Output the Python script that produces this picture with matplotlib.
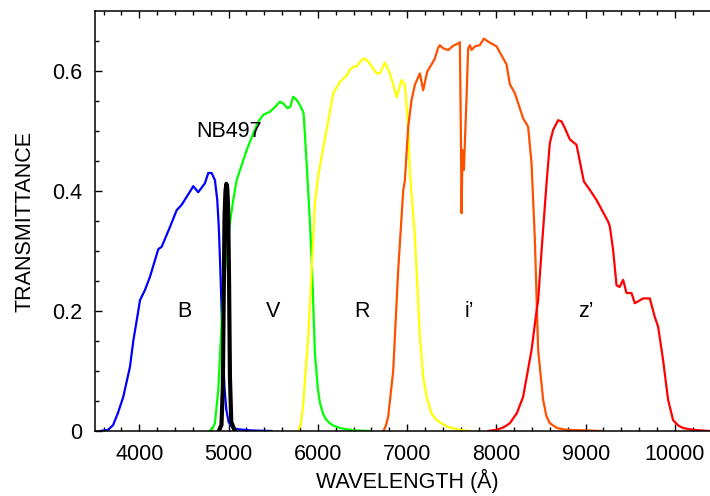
import matplotlib.pyplot as plt

plt.rcParams['font.family'] = ['Liberation Sans', 'DejaVu Sans']

# filter curves: wavelength (A), transmittance
b_wl = [3560, 3650, 3706, 3760, 3820, 3895, 3932, 3988, 4007, 4063, 4119, 4212, 4250,
        4343, 4418, 4474, 4567, 4604, 4660, 4735, 4772, 4810, 4847, 4873, 4890, 4905,
        4922, 4940, 4955, 4975, 5000, 5040, 5100, 5250, 5480]
b_tr = [0.0, 0.002, 0.01, 0.03, 0.057, 0.107, 0.15, 0.2, 0.218, 0.235, 0.257, 0.303, 0.307,
        0.34, 0.368, 0.377, 0.399, 0.408, 0.398, 0.413, 0.43, 0.43, 0.418, 0.385, 0.34, 0.28,
        0.2, 0.12, 0.07, 0.035, 0.015, 0.006, 0.003, 0.001, 0.0]

nb_wl = [4890, 4920, 4935, 4945, 4955, 4965, 4975, 4985, 4995, 5005, 5015, 5030, 5070]
nb_tr = [0.0, 0.01, 0.07, 0.22, 0.36, 0.40, 0.412, 0.405, 0.37, 0.25, 0.09, 0.015, 0.0]

v_wl = [4780, 4820, 4847, 4884, 4903, 4922, 4940, 4980, 5015, 5052, 5090, 5146, 5202, 5276,
        5330, 5388, 5463, 5520, 5575, 5620, 5657, 5690, 5724, 5762, 5800, 5840, 5875, 5910,
        5935, 5967, 6000, 6023, 6060, 6098, 6160, 6247, 6400, 6583]
v_tr = [0.0, 0.004, 0.013, 0.068, 0.124, 0.18, 0.235, 0.3, 0.347, 0.385, 0.418, 0.443, 0.468, 0.496,
        0.515, 0.527, 0.532, 0.54, 0.549, 0.545, 0.538, 0.54, 0.557, 0.552, 0.543, 0.53, 0.445, 0.35,
        0.27, 0.13, 0.07, 0.047, 0.028, 0.018, 0.01, 0.005, 0.001, 0.0]

r_wl = [5780, 5810, 5836, 5892, 5930, 5967, 6004, 6042, 6098, 6172, 6247, 6322, 6359, 6396,
        6434, 6508, 6564, 6658, 6695, 6751, 6807, 6844, 6882, 6938, 6975, 7012, 7031, 7087,
        7143, 7180, 7218, 7270, 7330, 7450, 7590, 7703]
r_tr = [0.0, 0.012, 0.046, 0.157, 0.268, 0.38, 0.425, 0.457, 0.502, 0.563, 0.582, 0.592, 0.602, 0.607,
        0.608, 0.621, 0.616, 0.596, 0.596, 0.614, 0.596, 0.577, 0.556, 0.585, 0.577, 0.507, 0.43, 0.324,
        0.157, 0.09, 0.057, 0.03, 0.018, 0.007, 0.002, 0.0]

i_wl = [6733, 6760, 6788, 6844, 6900, 6956, 6975, 7012, 7050, 7087, 7143, 7180, 7225, 7274,
        7311, 7348, 7367, 7404, 7460, 7516, 7572, 7591, 7602, 7610, 7621, 7636, 7666, 7684,
        7703, 7722, 7759, 7785, 7815, 7860, 7908, 8002, 8114, 8151, 8207, 8300, 8356, 8394,
        8431, 8468, 8524, 8560, 8599, 8680, 8786, 9000, 9178]
i_tr = [0.0, 0.008, 0.024, 0.10, 0.268, 0.40, 0.418, 0.507, 0.552, 0.577, 0.596, 0.568, 0.599, 0.611,
        0.621, 0.639, 0.643, 0.638, 0.635, 0.642, 0.646, 0.648, 0.5, 0.363, 0.468, 0.435, 0.557, 0.638,
        0.643, 0.635, 0.641, 0.642, 0.643, 0.654, 0.649, 0.641, 0.611, 0.578, 0.563, 0.521, 0.507, 0.446,
        0.32, 0.135, 0.052, 0.025, 0.013, 0.005, 0.002, 0.001, 0.0]

z_wl = [7908, 8000, 8080, 8151, 8230, 8300, 8394, 8450, 8468, 8506, 8562, 8599, 8636, 8692,
        8730, 8767, 8823, 8898, 8980, 9047, 9122, 9252, 9271, 9308, 9346, 9380, 9420, 9458,
        9514, 9551, 9644, 9719, 9775, 9812, 9868, 9924, 9980, 10040, 10092, 10200, 10391, 10500]
z_tr = [0.0, 0.002, 0.006, 0.013, 0.03, 0.057, 0.135, 0.2, 0.218, 0.30, 0.413, 0.48, 0.502, 0.518,
        0.516, 0.505, 0.486, 0.477, 0.416, 0.402, 0.385, 0.349, 0.341, 0.302, 0.243, 0.24, 0.252, 0.23,
        0.23, 0.213, 0.221, 0.221, 0.19, 0.174, 0.118, 0.052, 0.018, 0.009, 0.005, 0.002, 0.0, 0.0]

labels = ['B', 'V', 'R', 'i’', 'z’']
label_wl = [4500, 5500, 6500, 7700, 9000]

fs = 15.5
fig = plt.figure(figsize=(7.1, 4.96), dpi=100)
ax = fig.add_axes([0.1334, 0.131, 0.880, 0.8468])

lw = 1.6
ax.plot(b_wl, b_tr, color='#0000ff', lw=lw)
ax.plot(v_wl, v_tr, color='#00ff00', lw=lw)
ax.plot(r_wl, r_tr, color='#ffff00', lw=lw)
ax.plot(i_wl, i_tr, color='#ff5000', lw=lw)
ax.plot(z_wl, z_tr, color='#ff0000', lw=lw)
ax.plot(nb_wl, nb_tr, color='black', lw=3)

for lab, wl in zip(labels, label_wl):
    ax.text(wl, 0.2, lab, ha='center', va='center', fontsize=fs)
ax.text(5000, 0.5, 'NB497', ha='center', va='center', fontsize=fs)

ax.set_xlim(3500, 10500)
ax.set_ylim(0, 0.7)
ax.set_xticks([4000, 5000, 6000, 7000, 8000, 9000, 10000])
ax.set_xticks(range(3600, 10500, 200), minor=True)
ax.set_yticks([0, 0.2, 0.4, 0.6])
ax.set_yticklabels(['0', '0.2', '0.4', '0.6'])
ax.set_yticks([0.05, 0.1, 0.15, 0.25, 0.3, 0.35, 0.45, 0.5, 0.55, 0.65], minor=True)
ax.tick_params(which='both', direction='in', top=True, right=True, labelsize=fs, width=1)
ax.tick_params(which='major', length=5, pad=9)
ax.tick_params(which='minor', length=3)
for s in ax.spines.values():
    s.set_linewidth(1.1)

ax.set_xlabel('WAVELENGTH (Å)', fontsize=fs, labelpad=3)
ax.set_ylabel('TRANSMITTANCE', fontsize=fs, labelpad=12)

fig.savefig('out.png', dpi=100)
